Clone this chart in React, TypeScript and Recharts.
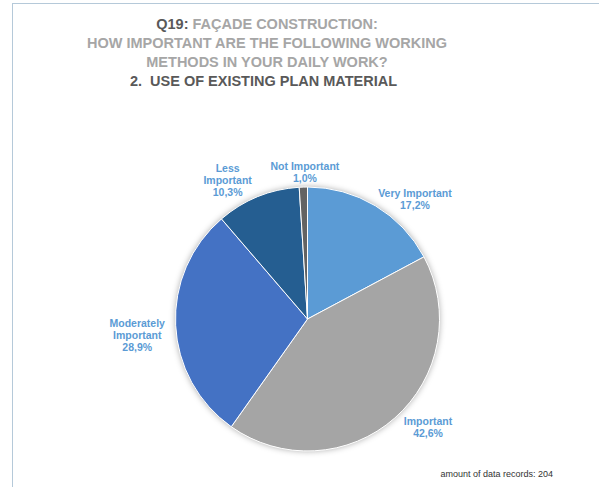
import { PieChart, Pie, Cell, Sector } from "recharts";

const CATEGORIES = ["Very Important", "Important", "Moderately Important", "Less Important", "Not Important"];
const SHARES = [17.2, 42.6, 28.9, 10.3, 1.0];
const LABEL_LINES = [["Very Important"], ["Important"], ["Moderately", "Important"], ["Less", "Important"], ["Not Important"]];
const COLORS = ["#5b9bd5", "#a5a5a5", "#4472c4", "#255e91", "#636363"];

// nudges for label placement relative to each slice's mid angle
const LABEL_SHIFT = [
  { angle: -10.9, r: 161 },
  { angle: 6.7, r: 162 },
  { angle: 2.7, r: 171 },
  { angle: 7.8, r: 160 },
  { angle: -0.8, r: 147 },
];

const FONT = '"Liberation Sans", Arial, sans-serif';
const RAD = Math.PI / 180;

const data = CATEGORIES.map((name, i) => ({ name, value: SHARES[i] }));

function renderLabel(props: any) {
  const { cx, cy, midAngle, index, value } = props;
  const shift = LABEL_SHIFT[index];
  const a = (midAngle + shift.angle) * RAD;
  const x = cx + shift.r * Math.cos(a);
  const y = cy - shift.r * Math.sin(a);
  const lines = [...LABEL_LINES[index], `${value.toFixed(1).replace(".", ",")}%`];
  const lh = 12;
  const top = y - ((lines.length - 1) * lh) / 2;
  return (
    <text
      key={index}
      x={x}
      y={top}
      textAnchor="middle"
      dominantBaseline="central"
      fill="#5b9bd5"
      fontSize={10.5}
      fontWeight="bold"
      fontFamily={FONT}
    >
      {lines.map((t, k) => (
        <tspan key={k} x={x} dy={k === 0 ? 0 : lh}>
          {t}
        </tspan>
      ))}
    </text>
  );
}

export default function App() {
  return (
    <div style={{ position: "absolute", left: 0, top: 0, width: 599, height: 487, background: "#fff", overflow: "hidden", fontFamily: FONT }}>
      <div
        style={{
          position: "absolute",
          left: 12,
          top: 3,
          width: 600,
          height: 500,
          borderTop: "1.5px solid #b5c9d9",
          borderLeft: "1.5px solid #b5c9d9",
        }}
      />
      <div
        style={{
          position: "absolute",
          left: 0,
          top: 14.5,
          width: 534,
          textAlign: "center",
          fontSize: 14.5,
          lineHeight: "19px",
          fontWeight: "bold",
          color: "#a6a6a6",
        }}
      >
        <div>
          <span style={{ color: "#595959" }}>Q19:</span> FAÇADE CONSTRUCTION:
        </div>
        <div>HOW IMPORTANT ARE THE FOLLOWING WORKING</div>
        <div>METHODS IN YOUR DAILY WORK?</div>
        <div style={{ color: "#595959", position: "relative", left: -3.5 }}>2.&nbsp; USE OF EXISTING PLAN MATERIAL</div>
      </div>
      <div style={{ position: "absolute", left: 0, top: 0 }}>
        <PieChart width={599} height={487} margin={{ top: 0, right: 0, bottom: 0, left: 0 }}>
          <Pie
            data={[{ name: "shadow", value: 1 }]}
            dataKey="value"
            cx={307.5}
            cy={319}
            outerRadius={132}
            startAngle={90}
            endAngle={-270}
            stroke="none"
            fill="#ffffff"
            isAnimationActive={false}
            shape={(p: any) => <Sector {...p} style={{ filter: "drop-shadow(0 0 3px rgba(0,0,0,0.35))" }} />}
          />
          <Pie
            data={data}
            dataKey="value"
            nameKey="name"
            cx={307.5}
            cy={319}
            outerRadius={132}
            startAngle={90}
            endAngle={-270}
            stroke="#ffffff"
            strokeWidth={1}
            isAnimationActive={false}
            label={renderLabel}
            labelLine={false}
          >
            {data.map((d, i) => (
              <Cell key={d.name} fill={COLORS[i]} />
            ))}
          </Pie>
        </PieChart>
      </div>
      <div
        style={{
          position: "absolute",
          right: 599 - 553,
          top: 468,
          fontSize: 9,
          lineHeight: "12px",
          color: "#333",
          whiteSpace: "nowrap",
        }}
      >
        amount of data records: 204
      </div>
    </div>
  );
}
